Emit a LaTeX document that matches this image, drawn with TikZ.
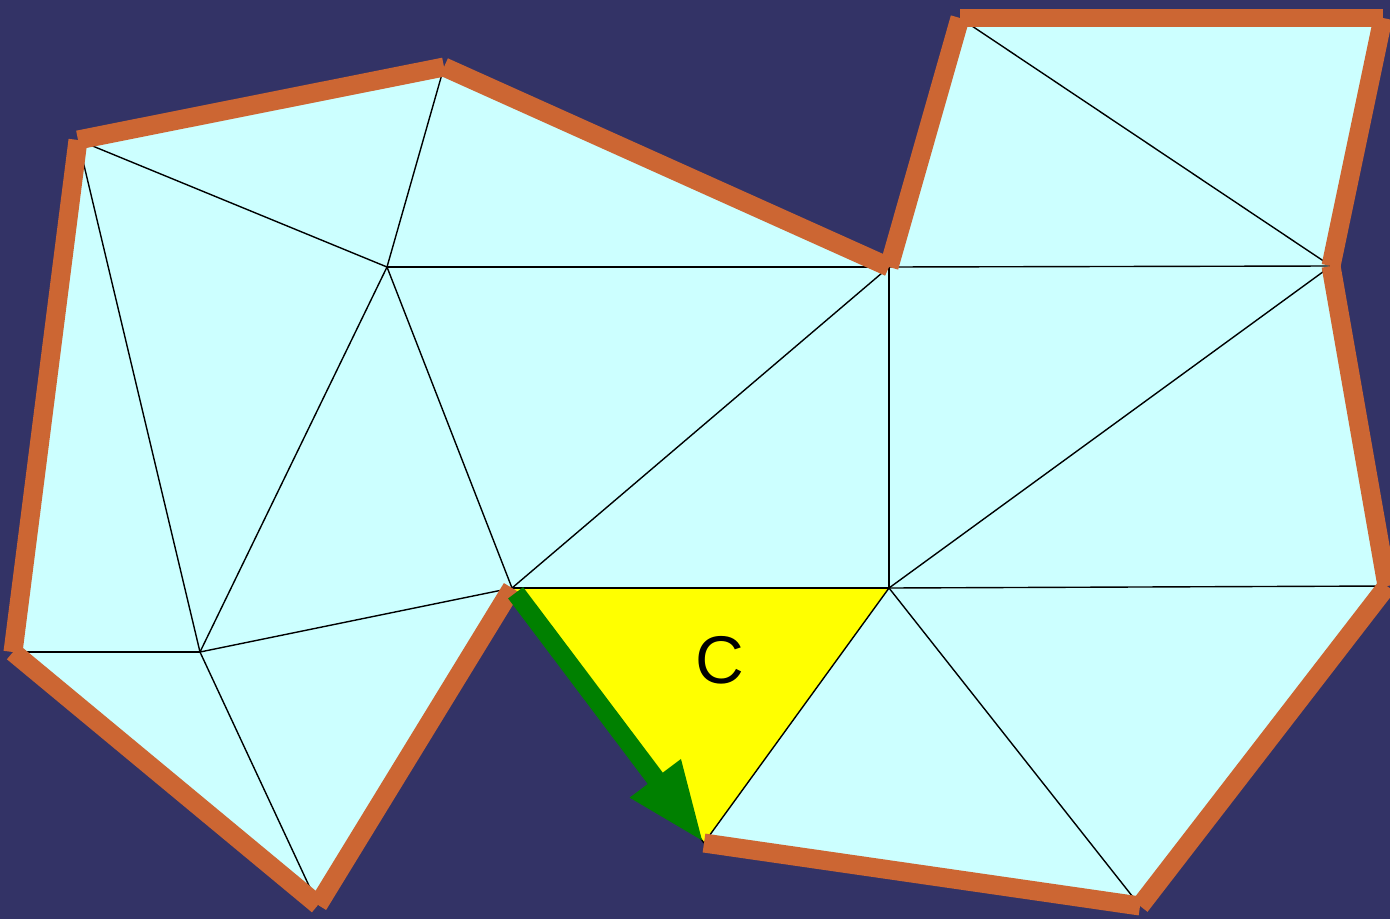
\documentclass[tikz,border=0pt]{standalone}
\usepackage{fontspec}
\setmainfont{Liberation Sans}
\usetikzlibrary{arrows.meta}
\definecolor{bg}{HTML}{333366}
\definecolor{cy}{HTML}{CCFFFF}
\definecolor{orng}{HTML}{CC6633}
\definecolor{grn}{HTML}{008000}
\definecolor{ylw}{HTML}{FFFF00}
\begin{document}
\begin{tikzpicture}[x=0.05cm,y=-0.05cm,
  mesh/.style={draw=black,line width=0.07cm},
  bnd/.style={draw=orng,line width=0.95cm,line cap=butt},
  arr/.style={draw=grn,line width=0.94cm,line cap=butt,-{Triangle[length=4.05cm,width=2.9cm]}}]
\fill[bg] (0,0) rectangle (1390,919);
\useasboundingbox (0,0) rectangle (1390,919);
% vertices
\coordinate (A) at (78,140);
\coordinate (B) at (444,67);
\coordinate (C) at (387,267);
\coordinate (D) at (889,267);
\coordinate (E) at (960,18);
\coordinate (F) at (1383,18);
\coordinate (G) at (1331,266);
\coordinate (H) at (1387,586);
\coordinate (I) at (889,588);
\coordinate (J) at (512,588);
\coordinate (K) at (200,652);
\coordinate (L) at (13,652);
\coordinate (M) at (318,905);
\coordinate (O) at (704,843);
\coordinate (P) at (1140,906);
% fills
\fill[cy] (A)--(B)--(D)--(E)--(F)--(G)--(H)--(P)--(O)--(J)--(M)--(L)--cycle;
\fill[ylw] (J)--(I)--(O)--cycle;
% mesh edges
\foreach \p/\q in {A/B,A/C,A/K,A/L,B/C,B/D,C/D,C/K,C/J,K/J,K/L,K/M,J/M,L/M,D/J,D/I,J/I,D/E,D/G,E/G,E/F,F/G,G/I,G/H,I/H,H/P,I/P,I/O,O/P,J/O}
  \draw[mesh] (\p) -- (\q);
% boundary edges
\foreach \p/\q in {A/B,B/D,D/E,E/F,F/G,G/H,H/P,P/O,J/M,M/L,L/A}
  \draw[bnd] (\p) -- (\q);
% arrow
\draw[arr,shorten <=0.3cm] (J) -- (O);
\node[text=black,inner sep=0pt] (lbl) at (720,660) {\fontsize{96}{96}\selectfont C};
\end{tikzpicture}
\end{document}
